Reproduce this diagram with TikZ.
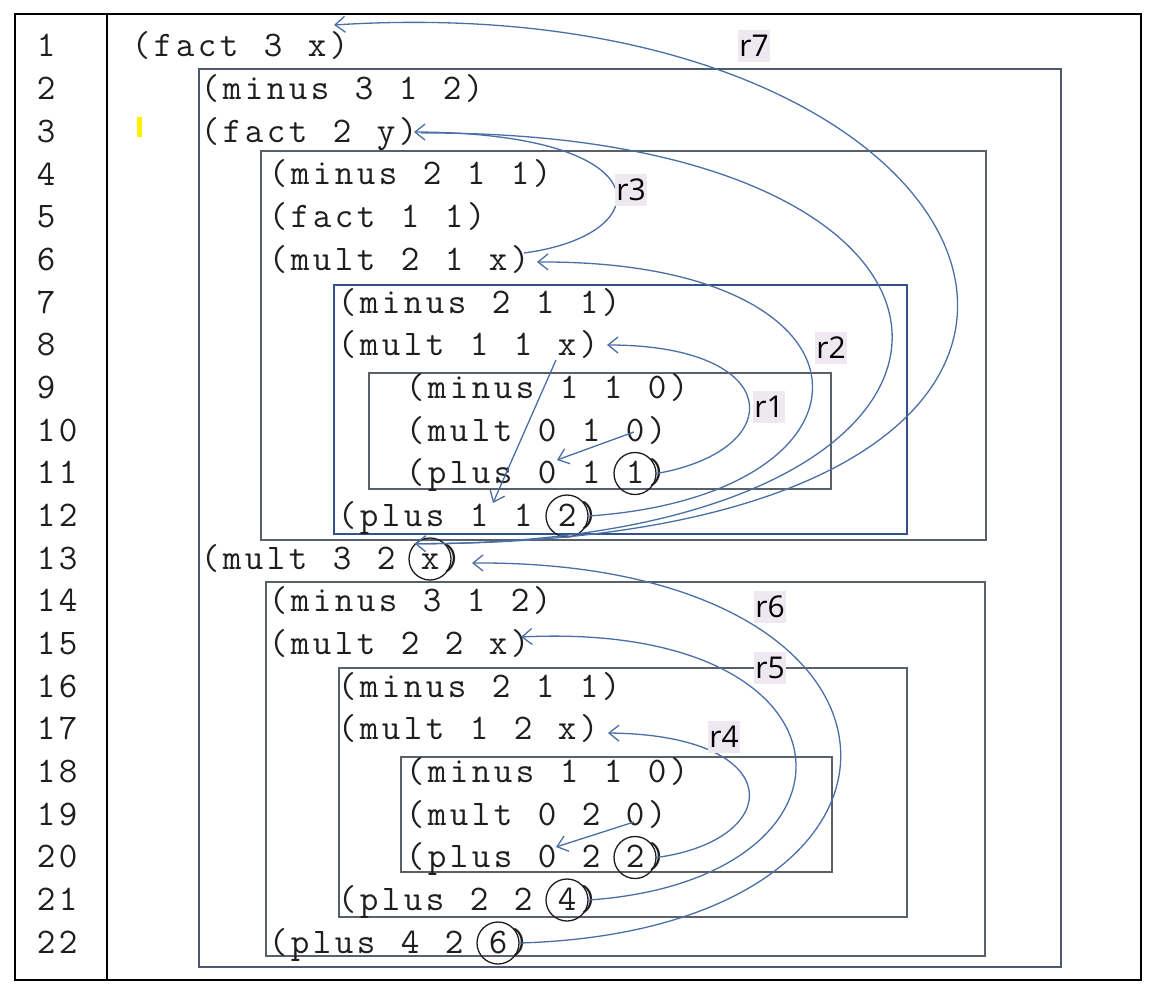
\documentclass[tikz,border=0pt]{standalone}
\usepackage{fontspec}
\newfontfamily\lblfont{Open Sans}
\usetikzlibrary{arrows.meta,calc}
\definecolor{arr}{HTML}{4A6FA5}
\definecolor{txt}{HTML}{1E1E1E}
\definecolor{boxa}{HTML}{4B5870}
\definecolor{boxb}{HTML}{34528A}
\definecolor{boxc}{HTML}{5A6068}
\definecolor{lblbg}{HTML}{EEE9F1}
\definecolor{cursorc}{HTML}{FFF200}
\ExplSyntaxOn
\dim_new:N \l_pitch_dim
\dim_set:Nn \l_pitch_dim {22pt}
\NewDocumentCommand \mono { m }
  { \exp_args:Ne \str_map_inline:nn {#1} { \hbox_to_wd:nn { \l_pitch_dim } { \hss ##1 \hss } } }
\ExplSyntaxOff
\begin{document}
\begin{tikzpicture}[x=1pt,y=-1pt,
  code/.style={anchor=base west,inner sep=0pt,font=\fontsize{36}{40}\ttfamily,text=txt},
  circ/.style={draw=txt,circle,minimum size=42pt,inner sep=0pt,line width=1.3pt},
  frame/.style={draw=boxc,line width=2pt},
  ret/.style={draw=arr,line width=1.3pt,-{Straight Barb[length=10pt,width=16pt,line width=1.3pt]}},
  lbl/.style={fill=lblbg,inner sep=1.5pt,minimum height=32pt,text=black,font=\lblfont\fontsize{30}{32}\selectfont}
]
\useasboundingbox (0,0) rectangle (1159,1003);
\fill[white] (0,0) rectangle (1159,1003);
% outer frame
\draw[black,line width=2.5pt] (15,14) rectangle (1141,980);
\draw[black,line width=2pt] (107,14) -- (107,980);
% nested boxes
\draw[frame,draw=boxa] (199,69) rectangle (1061,967);
\draw[frame] (261,151) rectangle (986,540);
\draw[frame,draw=boxb] (334,285) rectangle (907,534);
\draw[frame,line width=1.6pt] (369,373) rectangle (831,489);
\draw[frame] (266,582) rectangle (985,956);
\draw[frame,line width=1.8pt] (339,668) rectangle (907,917);
\draw[frame,line width=1.6pt] (401,757) rectangle (832,872);
% cursor mark
\fill[cursorc] (137,117) rectangle (142,137);
% line numbers
\foreach \i in {1,...,22}
  \node[code] (n\i) at (35,{46+(\i-1)*42.667+11}) {\mono{\i}};
% code lines
\node[code] (t1)  at (130, 57.0) {\mono{(fact 3 x)}};
\node[code] (t2)  at (199, 99.7) {\mono{(minus 3 1 2)}};
\node[code] (t3)  at (199,142.3) {\mono{(fact 2 y)}};
\node[code] (t4)  at (267,185.0) {\mono{(minus 2 1 1)}};
\node[code] (t5)  at (267,227.7) {\mono{(fact 1 1)}};
\node[code] (t6)  at (267,270.3) {\mono{(mult 2 1 x)}};
\node[code] (t7)  at (336,313.0) {\mono{(minus 2 1 1)}};
\node[code] (t8)  at (336,355.7) {\mono{(mult 1 1 x)}};
\node[code] (t9)  at (404,398.3) {\mono{(minus 1 1 0)}};
\node[code] (t10) at (404,441.0) {\mono{(mult 0 1 0)}};
\node[code] (t11) at (404,483.7) {\mono{(plus 0 1 1)}};
\node[code] (t12) at (336,526.3) {\mono{(plus 1 1 2)}};
\node[code] (t13) at (199,569.0) {\mono{(mult 3 2 x)}};
\node[code] (t14) at (267,611.7) {\mono{(minus 3 1 2)}};
\node[code] (t15) at (267,654.3) {\mono{(mult 2 2 x)}};
\node[code] (t16) at (336,697.0) {\mono{(minus 2 1 1)}};
\node[code] (t17) at (336,739.7) {\mono{(mult 1 2 x)}};
\node[code] (t18) at (404,782.3) {\mono{(minus 1 1 0)}};
\node[code] (t19) at (404,825.0) {\mono{(mult 0 2 0)}};
\node[code] (t20) at (404,867.7) {\mono{(plus 0 2 2)}};
\node[code] (t21) at (336,910.3) {\mono{(plus 2 2 4)}};
\node[code] (t22) at (267,953.0) {\mono{(plus 4 2 6)}};
% circled values
\node[circ] (c11) at (635,473.5) {};
\node[circ] (c12) at (567,516) {};
\node[circ] (c13) at (430,559) {};
\node[circ] (c20) at (635,857.5) {};
\node[circ] (c21) at (567,900) {};
\node[circ] (c22) at (498,943) {};
% arrow targets / free ends
\coordinate (p1)  at (334,25);
\coordinate (p3)  at (414,132);
\coordinate (s3)  at (421,133);
\coordinate (s6)  at (524,253);
\coordinate (p6)  at (537,262);
\coordinate (p8)  at (607,345);
\coordinate (p13) at (472,563);
\coordinate (p15) at (521,637);
\coordinate (p17) at (608,733);
\coordinate (q8)  at (556,360);
\coordinate (q12) at (493,503);
\coordinate (q10) at (634,432);
\coordinate (q11) at (557,460);
\coordinate (q19) at (634,822);
\coordinate (q20) at (556,847);
% return arrows
\draw[ret] (c11.east) .. controls (790,450) and (785,345) .. (p8);
\draw[ret] (c12.east) .. controls (895,495) and (895,260) .. (p6);
\draw[ret] (s6) .. controls (660,235) and (665,133) .. (p3);
\draw[ret] (s3) .. controls (1050,130) and (1050,545) .. (c13.north west);
\draw[ret] (c13.north west) .. controls (1250,545) and (1040,-20) .. (p1);
\draw[ret] (c20.east) .. controls (785,840) and (790,735) .. (p17);
\draw[ret] (c21.east) .. controls (880,880) and (870,620) .. (p15);
\draw[ret] (c22.east) .. controls (960,930) and (950,560) .. (p13);
\draw[ret] (q8) -- (q12);
\draw[ret] (q10) -- (q11);
\draw[ret] (q19) -- (q20);
% labels
\node[lbl] (l7) at (754,46) {r7};
\node[lbl] (l3) at (631,190) {r3};
\node[lbl] (l2) at (831,348) {r2};
\node[lbl] (l1) at (769,407) {r1};
\node[lbl] (l6) at (770,607) {r6};
\node[lbl] (l5) at (770,668) {r5};
\node[lbl] (l4) at (724,737) {r4};
\end{tikzpicture}
\end{document}
